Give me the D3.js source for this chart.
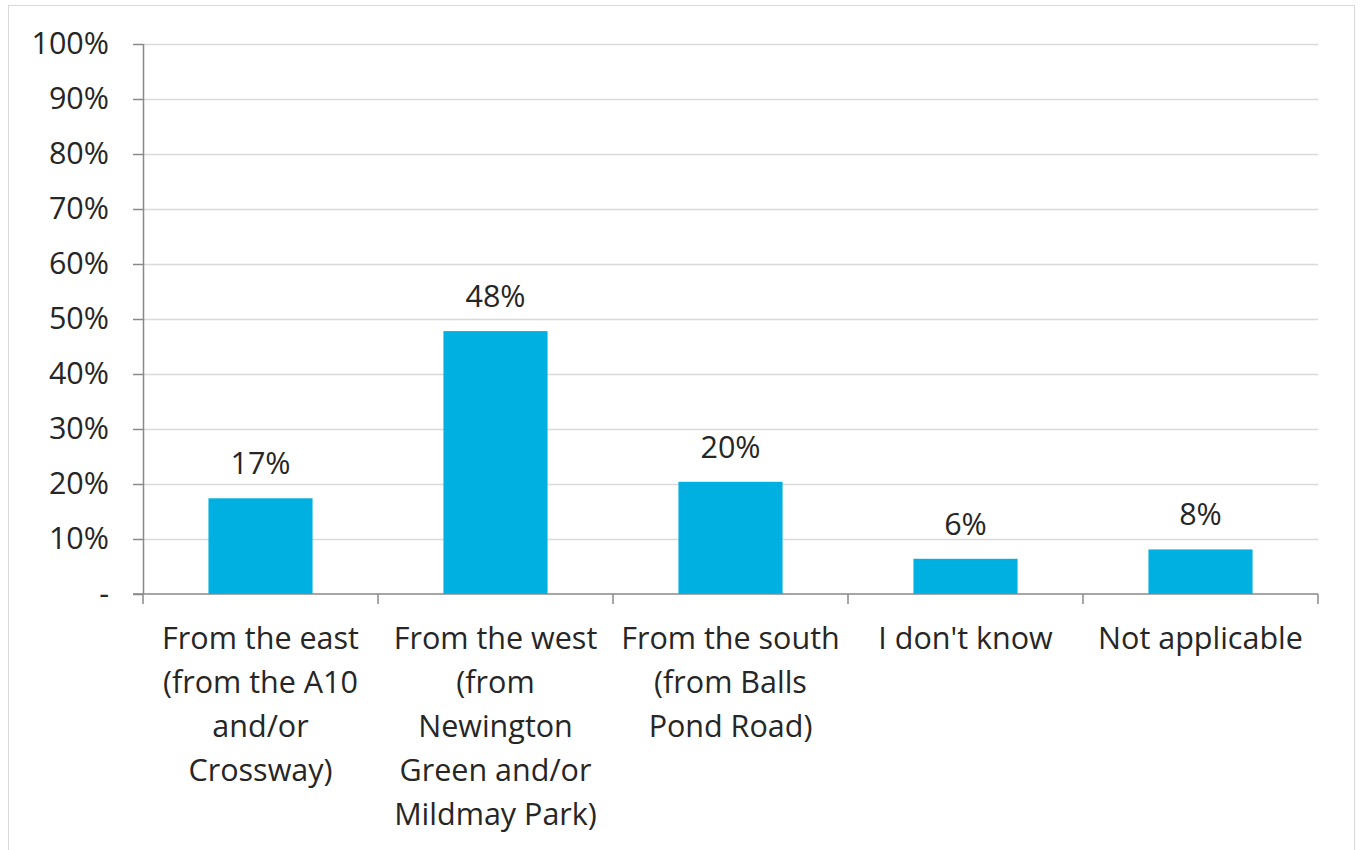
<!DOCTYPE html>
<html>
<head>
<meta charset="utf-8">
<script src="https://cdn.jsdelivr.net/npm/d3@7"></script>
<style>
  body { margin: 0; background: #fff; }
  svg text { font-family: "Open Sans", Lato, sans-serif; fill: #262626; }
</style>
</head>
<body>
<div id="chart"></div>
<script>
// category labels, one entry per line of the wrapped label
const categories = [
    ['From the east', '(from the A10', 'and/or', 'Crossway)'],
    ['From the west', '(from', 'Newington', 'Green and/or', 'Mildmay Park)'],
    ['From the south', '(from Balls', 'Pond Road)'],
    ["I don't know"],
    ['Not applicable']
];
const values = [17.4, 47.8, 20.4, 6.4, 8.1];
const yTicks = [0, 10, 20, 30, 40, 50, 60, 70, 80, 90, 100];

let width = 1362,
    height = 850,
    margin = {top: 44, left: 143, right: 44, bottom: 256},
    fontSize = '30.5px';

let svg = d3.select('#chart')
    .append('svg')
    .attr('width', width)
    .attr('height', height);

// chart frame
svg.append('rect')
    .attr('x', 8.5)
    .attr('y', 5.5)
    .attr('width', 1346)
    .attr('height', 900)
    .attr('fill', 'none')
    .attr('stroke', '#d9d9d9');

let xScale = d3.scaleBand()
        .domain(d3.range(categories.length))
        .range([margin.left, width - margin.right])
        .padding(0),

    yScale = d3.scaleLinear()
        .domain([0, 100])
        .range([height - margin.bottom, margin.top]);

let barWidth = xScale.bandwidth() * 0.443;

// gridlines
svg.append('g')
    .selectAll('line')
    .data(yTicks.filter(d => d > 0))
    .enter()
    .append('line')
    .attr('x1', margin.left)
    .attr('x2', width - margin.right)
    .attr('y1', d => Math.round(yScale(d)) + 0.5)
    .attr('y2', d => Math.round(yScale(d)) + 0.5)
    .attr('stroke', '#d9d9d9')
    .attr('stroke-width', 1.5);

// bars
svg.append('g')
    .selectAll('rect')
    .data(values)
    .enter()
    .append('rect')
    .attr('x', (d, i) => xScale(i) + (xScale.bandwidth() - barWidth) / 2)
    .attr('y', d => yScale(d))
    .attr('width', barWidth)
    .attr('height', d => yScale(0) - yScale(d))
    .attr('fill', '#00b0e0');

// data labels
svg.append('g')
    .selectAll('text')
    .data(values)
    .enter()
    .append('text')
    .attr('x', (d, i) => xScale(i) + xScale.bandwidth() / 2)
    .attr('y', d => yScale(d) - 24)
    .attr('text-anchor', 'middle')
    .style('font-size', fontSize)
    .text(d => Math.round(d) + '%');

// y axis
let yAxis = svg.append('g')
    .attr('transform', `translate(${margin.left},0)`)
    .call(d3.axisLeft(yScale)
        .tickValues(yTicks)
        .tickSize(10)
        .tickPadding(24)
        .tickFormat(d => d === 0 ? '-' : d + '%'));
yAxis.selectAll('path, line').attr('stroke', '#898989').attr('stroke-width', 1.5);
yAxis.select('.domain').attr('d', `M0.5,${yScale(100)}V${yScale(0)}`);
yAxis.selectAll('text').style('font-size', fontSize).attr('fill', '#262626');

// x axis
let xAxis = svg.append('g')
    .attr('transform', `translate(0,${yScale(0)})`);
xAxis.append('line')
    .attr('x1', margin.left - 10)
    .attr('x2', width - margin.right)
    .attr('stroke', '#898989')
    .attr('stroke-width', 1.5);
xAxis.selectAll('.tick')
    .data(d3.range(categories.length + 1))
    .enter()
    .append('line')
    .attr('x1', d => d < categories.length ? xScale(d) : xScale.range()[1])
    .attr('x2', d => d < categories.length ? xScale(d) : xScale.range()[1])
    .attr('y1', 0)
    .attr('y2', 10)
    .attr('stroke', '#898989')
    .attr('stroke-width', 1.5);

// x labels
svg.append('g')
    .selectAll('text')
    .data(categories)
    .enter()
    .append('text')
    .attr('text-anchor', 'middle')
    .style('font-size', fontSize)
    .attr('transform', (d, i) => `translate(${xScale(i) + xScale.bandwidth() / 2},${yScale(0) + 55})`)
    .selectAll('tspan')
    .data(d => d)
    .enter()
    .append('tspan')
    .attr('x', 0)
    .attr('y', (d, i) => i * 44)
    .text(d => d);
</script>
</body>
</html>
